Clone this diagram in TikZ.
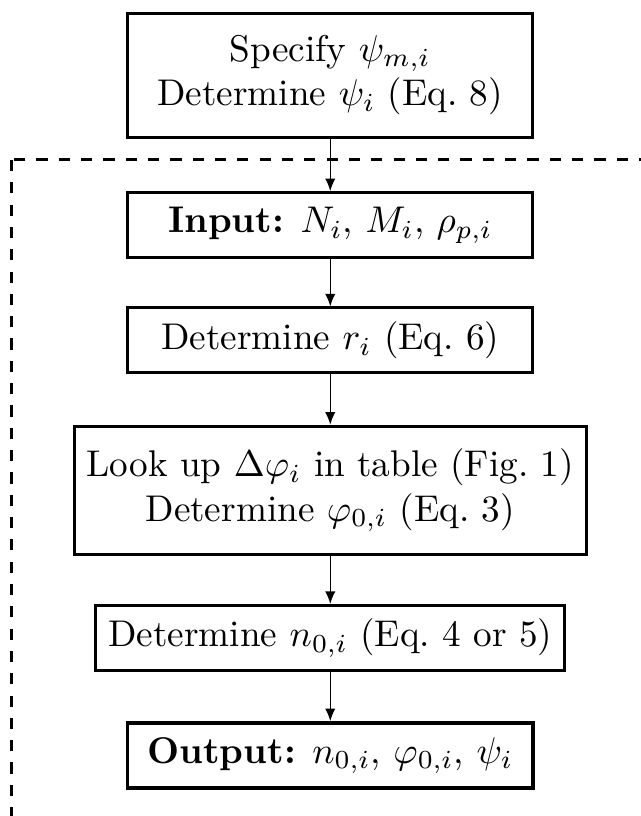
\documentclass[tikz,border=0pt]{standalone}
\usepackage{tikz}
\usetikzlibrary{arrows.meta,positioning}
\usepackage{amsmath}

\begin{document}
\begin{tikzpicture}[x=1pt,y=1pt,
  box/.style={draw,thick,align=center,minimum width=109pt,minimum height=#1},
  box/.default=17.4pt,
  flow/.style={-{Latex[length=3.4pt,width=2.8pt]}},
]
  \useasboundingbox (0,0) rectangle (172.3,-219.4);
  % dashed frame, cut by the page edge
  \begin{scope}
    \clip (0,0) rectangle (172.3,-219.4);
    \draw[thick,dashed] (3.2,-43) rectangle (240,-300);
  \end{scope}

  \node[box=33.4pt] (spec) at (88.8,-20.2) {Specify $\psi_{m,i}$\\ Determine $\psi_i$ (Eq.~8)};
  \node[box] (inp) at (88.8,-60.5) {\textbf{Input:} $N_i$, $M_i$, $\rho_{p,i}$};
  \node[box] (rad) at (88.8,-91.5) {Determine $r_i$ (Eq.~6)};
  \node[box=34.4pt] (look) at (88.8,-131.8) {Look up $\Delta\varphi_i$ in table (Fig.~1)\\ Determine $\varphi_{0,i}$ (Eq.~3)};
  \node[box] (num) at (88.8,-171.5) {Determine $n_{0,i}$ (Eq.~4 or 5)};
  \node[box,line width=1pt] (outp) at (88.8,-203.1) {\textbf{Output:} $n_{0,i}$, $\varphi_{0,i}$, $\psi_i$};

  \draw[flow] (spec) -- (inp);
  \draw[flow] (inp) -- (rad);
  \draw[flow] (rad) -- (look);
  \draw[flow] (look) -- (num);
  \draw[flow] (num) -- (outp);
\end{tikzpicture}
\end{document}
